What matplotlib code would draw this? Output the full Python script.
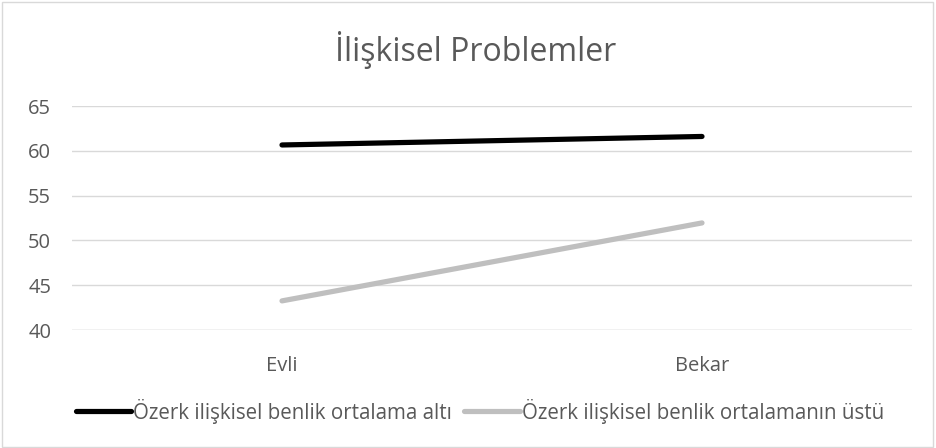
import matplotlib.pyplot as plt
from matplotlib.patches import Rectangle

plt.rcParams['font.family'] = ['Open Sans', 'DejaVu Sans']

categories = ['Evli', 'Bekar']
below_avg = [60.65, 61.6]
above_avg = [43.25, 51.95]
series_names = ['Özerk ilişkisel benlik ortalama altı',
                'Özerk ilişkisel benlik ortalamanın üstü']
yticks = [40, 45, 50, 55, 60, 65]

fig = plt.figure(figsize=(9.36, 4.48), dpi=100)
ax = fig.add_axes([72 / 936, 1 - 330 / 448, 840 / 936, 224 / 448])

x = range(len(categories))
l1, = ax.plot(x, below_avg, color='black', lw=3.75, solid_capstyle='round')
l2, = ax.plot(x, above_avg, color='#bfbfbf', lw=3.75, solid_capstyle='round')

ax.set_xlim(-0.5, 1.5)
ax.set_ylim(40, 65)
ax.set_yticks(yticks)
ax.set_xticks(list(x))
ax.set_xticklabels(categories)
ax.yaxis.grid(True, color='#d9d9d9', lw=1)
ax.set_axisbelow(True)
for s in ax.spines.values():
    s.set_visible(False)
ax.tick_params(length=0, labelsize=14.5, colors='#595959')
ax.tick_params(axis='y', pad=15)
ax.tick_params(axis='x', pad=19)
ax.axhline(40, color='#d9d9d9', lw=1, zorder=0)

fig.text(0.508, 1 - 50 / 448, 'İlişkisel Problemler', ha='center', va='center',
         fontsize=23, color='#595959')

fig.legend([l1, l2], series_names, loc='center', bbox_to_anchor=(480 / 936, 1 - 411 / 448),
           ncol=2, frameon=False, fontsize=14.8, handlelength=2.7, handletextpad=0.1,
           columnspacing=0.6, labelcolor='#595959')

fig.patches.append(Rectangle((0.002, 0.003), 0.995, 0.993, transform=fig.transFigure,
                             fill=False, edgecolor='#d9d9d9', lw=1))

fig.savefig('out.png', dpi=100, facecolor='white')
